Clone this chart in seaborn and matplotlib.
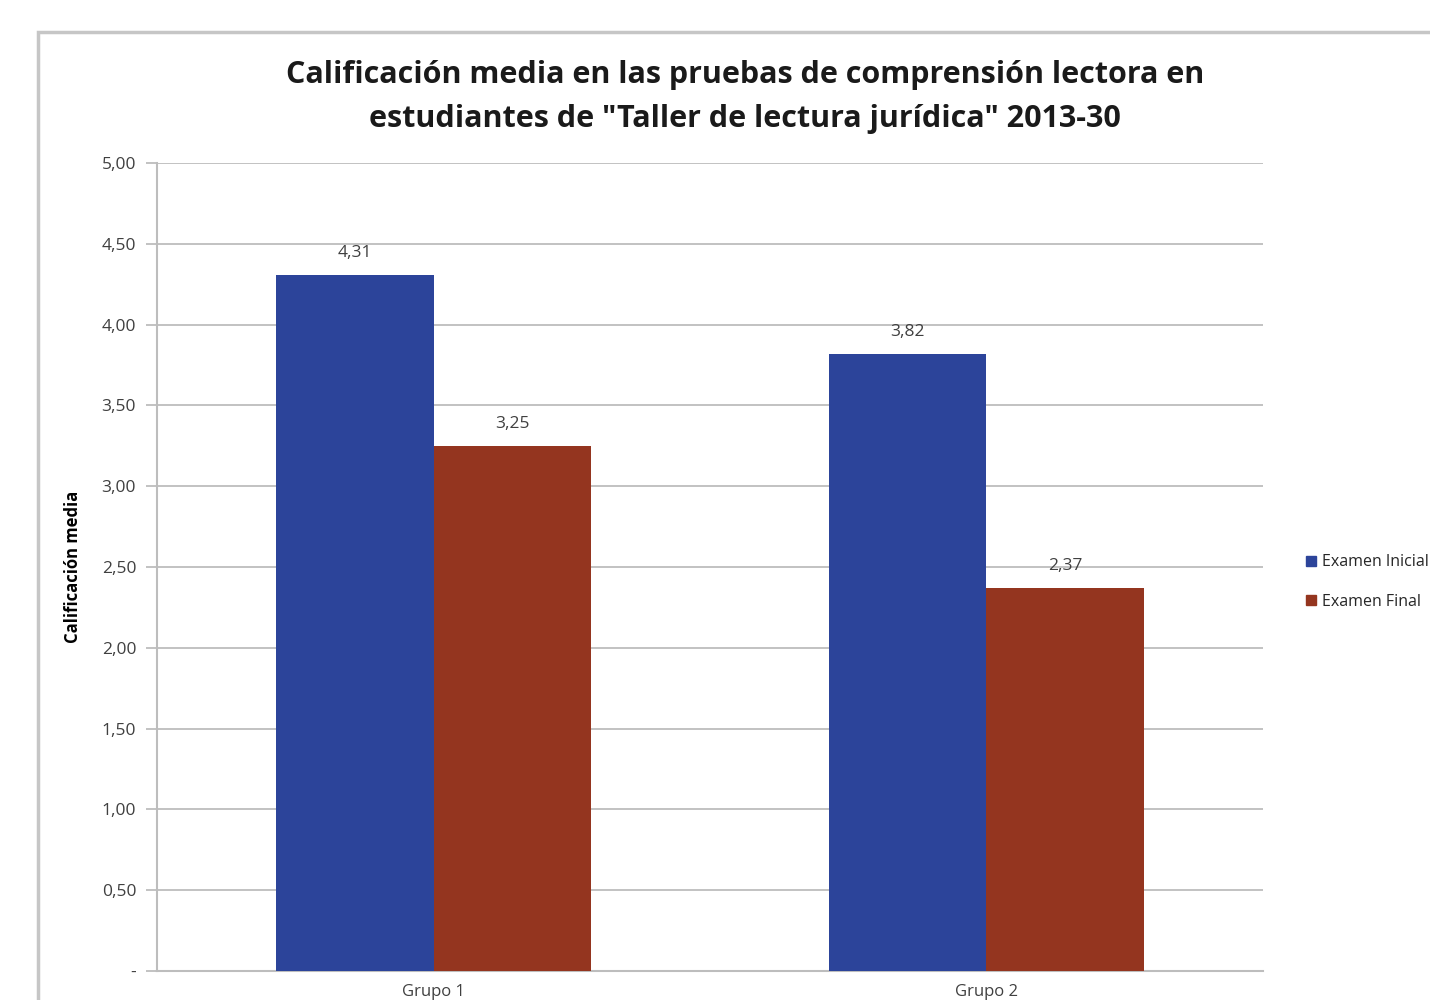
import numpy as np
import pandas as pd
import matplotlib
matplotlib.use('Agg')
import matplotlib.pyplot as plt
from matplotlib.patches import Rectangle, Patch
import seaborn as sns

# Data
grupos = ['Grupo 1', 'Grupo 2']
examen_inicial = [4.31, 3.82]
examen_final = [3.25, 2.37]
series = ['Examen Inicial', 'Examen Final']
colores = ['#2C449A', '#94351F']
y_ticks = [0, 0.5, 1.0, 1.5, 2.0, 2.5, 3.0, 3.5, 4.0, 4.5, 5.0]
y_tick_labels = ['-', '0,50', '1,00', '1,50', '2,00', '2,50', '3,00', '3,50', '4,00', '4,50', '5,00']

df = pd.DataFrame({
    'grupo': grupos * 2,
    'serie': [series[0]] * 2 + [series[1]] * 2,
    'valor': examen_inicial + examen_final,
})

sns.set_theme(style='white')
plt.rcParams['font.family'] = ['Open Sans', 'DejaVu Sans']

fig = plt.figure(figsize=(14.3, 10), dpi=100)
ax = fig.add_axes([0.1098, 0.029, 0.7734, 0.808])

# outer chart frame (cut by the image edges)
fig.patches.append(Rectangle((38 / 1430, -0.1), 1.2, 1.068, transform=fig.transFigure,
                             fill=False, edgecolor='#c6c6c6', linewidth=2.5, zorder=0))

sns.barplot(data=df, x='grupo', y='valor', hue='serie', palette=colores,
            width=0.57, saturation=1, linewidth=0, ax=ax, legend=False, zorder=3)

for cont in ax.containers:
    ax.bar_label(cont, labels=[f'{v:.2f}'.replace('.', ',') for v in cont.datavalues],
                 padding=10, fontsize=12.5, color='#404040')

ax.set_ylim(0, 5)
ax.set_xlim(-0.5, 1.5)
ax.set_yticks(y_ticks)
ax.set_yticklabels(y_tick_labels, fontsize=12.5, color='#404040')
ax.yaxis.grid(True, color='#bdbdbd', linewidth=1.3, zorder=0)
ax.set_axisbelow(True)
ax.tick_params(axis='y', length=8, width=1.3, color='#bdbdbd', left=True, pad=7)
ax.tick_params(axis='x', length=0, pad=9, labelsize=12, labelcolor='#404040')

for side in ['top', 'right']:
    ax.spines[side].set_visible(False)
for side in ['left', 'bottom']:
    ax.spines[side].set_color('#bdbdbd')
    ax.spines[side].set_linewidth(1.5)

ax.set_xlabel('')
ax.set_ylabel('Calificación media', fontsize=12, fontweight='bold', color='black', labelpad=14)

fig.suptitle('Calificación media en las pruebas de comprensión lectora en\n'
             'estudiantes de "Taller de lectura jurídica" 2013-30',
             x=0.521, y=0.94, fontsize=22, fontweight='bold', color='#1a1a1a', linespacing=1.6)

handles = [Patch(facecolor=c, edgecolor=c) for c in colores]
fig.legend(handles, series, loc='center left', bbox_to_anchor=(0.908, 0.418),
           frameon=False, fontsize=11.5, handlelength=0.6, handleheight=0.6,
           handletextpad=0.4, labelspacing=1.45, borderpad=0, labelcolor='#262626')

fig.savefig('out.png', dpi=100)
